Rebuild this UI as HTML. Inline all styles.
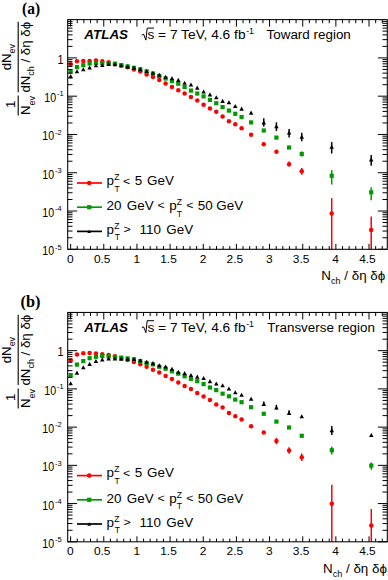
<!DOCTYPE html>
<html><head><meta charset="utf-8"><style>
html,body{margin:0;padding:0;background:#fff;}
svg{display:block;}
text{font-family:"Liberation Sans",sans-serif;}
</style></head><body>
<svg width="388" height="580" viewBox="0 0 388 580" font-family="Liberation Sans, sans-serif">
<rect width="388" height="580" fill="#fff"/>
<text transform="translate(70.43,262.7) scale(1.02,1)" font-size="11.7" text-anchor="middle">0</text>
<text transform="translate(102.19,262.7) scale(1.02,1)" font-size="11.7" text-anchor="middle">0.5</text>
<text transform="translate(136.74,262.7) scale(1.02,1)" font-size="11.7" text-anchor="middle">1</text>
<text transform="translate(168.5,262.7) scale(1.02,1)" font-size="11.7" text-anchor="middle">1.5</text>
<text transform="translate(203.05,262.7) scale(1.02,1)" font-size="11.7" text-anchor="middle">2</text>
<text transform="translate(234.81,262.7) scale(1.02,1)" font-size="11.7" text-anchor="middle">2.5</text>
<text transform="translate(269.36,262.7) scale(1.02,1)" font-size="11.7" text-anchor="middle">3</text>
<text transform="translate(301.12,262.7) scale(1.02,1)" font-size="11.7" text-anchor="middle">3.5</text>
<text transform="translate(335.67,262.7) scale(1.02,1)" font-size="11.7" text-anchor="middle">4</text>
<text transform="translate(367.42,262.7) scale(1.02,1)" font-size="11.7" text-anchor="middle">4.5</text>
<text transform="translate(63.6,63.5) scale(0.9,1)" font-size="12.0" text-anchor="end">1</text>
<text transform="translate(44.29,102.18) scale(0.885,1)" font-size="12.0">10</text>
<text transform="translate(56.97,96.48) scale(1.0,1)" font-size="7.5">-1</text>
<text transform="translate(42.29,140.46) scale(0.885,1)" font-size="12.0">10</text>
<text transform="translate(54.97,134.76) scale(1.0,1)" font-size="7.5">-2</text>
<text transform="translate(42.29,178.74) scale(0.885,1)" font-size="12.0">10</text>
<text transform="translate(54.97,173.04) scale(1.0,1)" font-size="7.5">-3</text>
<text transform="translate(42.29,217.02) scale(0.885,1)" font-size="12.0">10</text>
<text transform="translate(54.97,211.32) scale(1.0,1)" font-size="7.5">-4</text>
<text transform="translate(42.29,255.3) scale(0.885,1)" font-size="12.0">10</text>
<text transform="translate(54.97,249.6) scale(1.0,1)" font-size="7.5">-5</text>
<text transform="translate(321.3,279.5) scale(0.985,1)" font-size="13.6">N<tspan font-size="9.2" dy="4.0">ch</tspan><tspan dy="-4.0"> / δη δϕ</tspan></text>
<line x1="18.2" y1="95.6" x2="18.2" y2="115.6" stroke="#000" stroke-width="1.1"/>
<line x1="18.2" y1="21.8" x2="18.2" y2="92.2" stroke="#000" stroke-width="1.1"/>
<text transform="translate(15.2,108) rotate(-90) scale(0.97,1)" font-size="13.6">1</text>
<text transform="translate(30.2,115) rotate(-90) scale(0.97,1)" font-size="13.6">N<tspan font-size="9.2" dy="4.3">ev</tspan></text>
<text transform="translate(10.9,70.3) rotate(-90) scale(0.97,1)" font-size="13.6">dN<tspan font-size="9.2" dy="4.3">ev</tspan></text>
<text transform="translate(30.2,92.6) rotate(-90) scale(0.975,1)" font-size="13.6">dN<tspan font-size="9.2" dy="4.0">ch</tspan><tspan dy="-4.0"> / δη δϕ</tspan></text>
<text transform="translate(22,13.8) scale(0.91,1)" style="font-family:Liberation Serif,serif" font-weight="bold" font-size="17">(a)</text>
<text transform="translate(84.3,39.1) scale(1.01,1)" font-size="13.3" font-weight="bold" font-style="italic">ATLAS</text>
<text transform="translate(266.5,39.1) scale(1.01,1)" font-size="13.3">Toward region</text>
<text transform="translate(147.4,39.1) scale(1.033,1)" font-size="13.3">s = 7 TeV, 4.6 fb<tspan font-size="8.5" dx="0.6" dy="-5.0">-1</tspan></text>
<path d="M141.8 35.1L143.6 34.2L145.9 40.1L147.2 28.1H154" stroke="#000" stroke-width="1" fill="none"/>
<line x1="77" y1="183" x2="102" y2="183" stroke="#ff0000" stroke-width="1.7"/>
<circle cx="89.2" cy="183" r="2.3" fill="#ff0000"/>
<text transform="translate(106.43,185) scale(1.01,1)" font-size="13.3">p</text>
<text transform="translate(114.23,180.1) scale(1.01,1)" font-size="8.5">Z</text>
<text transform="translate(114.41,191.8) scale(1.01,1)" font-size="8.5">T</text>
<text transform="translate(122.89,184.65) scale(0.93,0.86)" font-size="13.3">&lt;</text>
<text transform="translate(134.76,185) scale(1.01,1)" font-size="13.3">5</text>
<text transform="translate(147.02,185) scale(1.01,1)" font-size="13.3">GeV</text>
<line x1="77" y1="207.2" x2="102" y2="207.2" stroke="#009a00" stroke-width="1.7"/>
<rect x="87.1" y="205.1" width="4.2" height="4.2" fill="#009a00"/>
<text transform="translate(106.52,209.7) scale(1.01,1)" font-size="13.3">20</text>
<text transform="translate(126.72,209.7) scale(1.01,1)" font-size="13.3">GeV</text>
<text transform="translate(157.39,209.35) scale(0.93,0.86)" font-size="13.3">&lt;</text>
<text transform="translate(169.23,209.7) scale(1.01,1)" font-size="13.3">p</text>
<text transform="translate(176.73,204.8) scale(1.01,1)" font-size="8.5">Z</text>
<text transform="translate(176.81,216.5) scale(1.01,1)" font-size="8.5">T</text>
<text transform="translate(186.29,209.35) scale(0.93,0.86)" font-size="13.3">&lt;</text>
<text transform="translate(197.86,209.7) scale(1.01,1)" font-size="13.3">50</text>
<text transform="translate(216.32,209.7) scale(1.01,1)" font-size="13.3">GeV</text>
<line x1="77" y1="231.4" x2="102" y2="231.4" stroke="#000000" stroke-width="1.7"/>
<path d="M89.2 229.74L91 233.06L87.4 233.06Z" fill="#000000"/>
<text transform="translate(106.43,233.6) scale(1.01,1)" font-size="13.3">p</text>
<text transform="translate(114.23,228.7) scale(1.01,1)" font-size="8.5">Z</text>
<text transform="translate(114.71,240.4) scale(1.01,1)" font-size="8.5">T</text>
<text transform="translate(123.49,233.25) scale(0.93,0.86)" font-size="13.3">&gt;</text>
<text transform="translate(139.58,233.6) scale(1.01,1)" font-size="13.3">110</text>
<text transform="translate(166.22,233.6) scale(1.01,1)" font-size="13.3">GeV</text>
<line x1="263.76" y1="118.2" x2="263.76" y2="126.4" stroke="#000000" stroke-width="1.5"/>
<line x1="276.42" y1="122.3" x2="276.42" y2="131" stroke="#000000" stroke-width="1.5"/>
<line x1="289.09" y1="129.1" x2="289.09" y2="137.5" stroke="#000000" stroke-width="1.5"/>
<line x1="289.09" y1="161.6" x2="289.09" y2="166.6" stroke="#ff0000" stroke-width="1.5"/>
<line x1="301.75" y1="132.8" x2="301.75" y2="141.2" stroke="#000000" stroke-width="1.5"/>
<line x1="301.75" y1="151.6" x2="301.75" y2="156.4" stroke="#009a00" stroke-width="1.5"/>
<line x1="301.75" y1="168" x2="301.75" y2="174.7" stroke="#ff0000" stroke-width="1.5"/>
<line x1="331.7" y1="142.1" x2="331.7" y2="153.5" stroke="#000000" stroke-width="1.5"/>
<line x1="331.7" y1="170.1" x2="331.7" y2="184.5" stroke="#009a00" stroke-width="1.5"/>
<line x1="331.7" y1="198.1" x2="331.7" y2="249.3" stroke="#ff0000" stroke-width="1.5"/>
<line x1="371.2" y1="155.1" x2="371.2" y2="165.8" stroke="#000000" stroke-width="1.5"/>
<line x1="371.2" y1="187.2" x2="371.2" y2="200.3" stroke="#009a00" stroke-width="1.5"/>
<line x1="371.2" y1="216.4" x2="371.2" y2="249.3" stroke="#ff0000" stroke-width="1.5"/>
<circle cx="70.63" cy="64.2" r="2.25" fill="#ff0000"/>
<circle cx="76.96" cy="61.3" r="2.25" fill="#ff0000"/>
<circle cx="83.29" cy="60.9" r="2.25" fill="#ff0000"/>
<circle cx="89.63" cy="61.1" r="2.25" fill="#ff0000"/>
<circle cx="95.96" cy="60.4" r="2.25" fill="#ff0000"/>
<circle cx="102.29" cy="61.2" r="2.25" fill="#ff0000"/>
<circle cx="108.62" cy="62.3" r="2.25" fill="#ff0000"/>
<circle cx="114.95" cy="63.9" r="2.25" fill="#ff0000"/>
<circle cx="121.29" cy="65.6" r="2.25" fill="#ff0000"/>
<circle cx="127.62" cy="67.3" r="2.25" fill="#ff0000"/>
<circle cx="133.95" cy="69.4" r="2.25" fill="#ff0000"/>
<circle cx="140.28" cy="71.5" r="2.25" fill="#ff0000"/>
<circle cx="146.62" cy="74.4" r="2.25" fill="#ff0000"/>
<circle cx="152.95" cy="77.1" r="2.25" fill="#ff0000"/>
<circle cx="159.28" cy="80" r="2.25" fill="#ff0000"/>
<circle cx="165.61" cy="83.4" r="2.25" fill="#ff0000"/>
<circle cx="171.94" cy="87.1" r="2.25" fill="#ff0000"/>
<circle cx="178.28" cy="90.2" r="2.25" fill="#ff0000"/>
<circle cx="184.61" cy="93.5" r="2.25" fill="#ff0000"/>
<circle cx="190.94" cy="97" r="2.25" fill="#ff0000"/>
<circle cx="197.27" cy="100.5" r="2.25" fill="#ff0000"/>
<circle cx="203.6" cy="104.7" r="2.25" fill="#ff0000"/>
<circle cx="209.94" cy="108.6" r="2.25" fill="#ff0000"/>
<circle cx="216.27" cy="111.8" r="2.25" fill="#ff0000"/>
<circle cx="222.6" cy="116.4" r="2.25" fill="#ff0000"/>
<circle cx="228.93" cy="121.2" r="2.25" fill="#ff0000"/>
<circle cx="235.27" cy="124.3" r="2.25" fill="#ff0000"/>
<circle cx="241.6" cy="128.3" r="2.25" fill="#ff0000"/>
<circle cx="251.1" cy="134.7" r="2.25" fill="#ff0000"/>
<circle cx="263.76" cy="144.3" r="2.25" fill="#ff0000"/>
<circle cx="276.42" cy="151.8" r="2.25" fill="#ff0000"/>
<circle cx="289.09" cy="164.2" r="2.25" fill="#ff0000"/>
<circle cx="301.75" cy="171.2" r="2.25" fill="#ff0000"/>
<circle cx="331.7" cy="213.6" r="2.25" fill="#ff0000"/>
<circle cx="371.2" cy="230" r="2.25" fill="#ff0000"/>
<rect x="68.53" y="69.4" width="4.2" height="4.2" fill="#009a00"/>
<rect x="74.86" y="65" width="4.2" height="4.2" fill="#009a00"/>
<rect x="81.19" y="63.1" width="4.2" height="4.2" fill="#009a00"/>
<rect x="87.53" y="61.4" width="4.2" height="4.2" fill="#009a00"/>
<rect x="93.86" y="60.8" width="4.2" height="4.2" fill="#009a00"/>
<rect x="100.19" y="61" width="4.2" height="4.2" fill="#009a00"/>
<rect x="106.52" y="61.2" width="4.2" height="4.2" fill="#009a00"/>
<rect x="112.85" y="61.6" width="4.2" height="4.2" fill="#009a00"/>
<rect x="119.19" y="63.1" width="4.2" height="4.2" fill="#009a00"/>
<rect x="125.52" y="64.3" width="4.2" height="4.2" fill="#009a00"/>
<rect x="131.85" y="65.8" width="4.2" height="4.2" fill="#009a00"/>
<rect x="138.18" y="67.2" width="4.2" height="4.2" fill="#009a00"/>
<rect x="144.52" y="69.3" width="4.2" height="4.2" fill="#009a00"/>
<rect x="150.85" y="71.5" width="4.2" height="4.2" fill="#009a00"/>
<rect x="157.18" y="73.9" width="4.2" height="4.2" fill="#009a00"/>
<rect x="163.51" y="76.4" width="4.2" height="4.2" fill="#009a00"/>
<rect x="169.84" y="79" width="4.2" height="4.2" fill="#009a00"/>
<rect x="176.18" y="81.6" width="4.2" height="4.2" fill="#009a00"/>
<rect x="182.51" y="85" width="4.2" height="4.2" fill="#009a00"/>
<rect x="188.84" y="88.5" width="4.2" height="4.2" fill="#009a00"/>
<rect x="195.17" y="91.4" width="4.2" height="4.2" fill="#009a00"/>
<rect x="201.5" y="94.3" width="4.2" height="4.2" fill="#009a00"/>
<rect x="207.84" y="97.8" width="4.2" height="4.2" fill="#009a00"/>
<rect x="214.17" y="101.1" width="4.2" height="4.2" fill="#009a00"/>
<rect x="220.5" y="105" width="4.2" height="4.2" fill="#009a00"/>
<rect x="226.83" y="108.5" width="4.2" height="4.2" fill="#009a00"/>
<rect x="233.17" y="111.7" width="4.2" height="4.2" fill="#009a00"/>
<rect x="239.5" y="114.9" width="4.2" height="4.2" fill="#009a00"/>
<rect x="249" y="120.3" width="4.2" height="4.2" fill="#009a00"/>
<rect x="261.66" y="128.4" width="4.2" height="4.2" fill="#009a00"/>
<rect x="274.32" y="135.5" width="4.2" height="4.2" fill="#009a00"/>
<rect x="286.99" y="145.4" width="4.2" height="4.2" fill="#009a00"/>
<rect x="299.65" y="151.9" width="4.2" height="4.2" fill="#009a00"/>
<rect x="329.6" y="173.7" width="4.2" height="4.2" fill="#009a00"/>
<rect x="369.1" y="190.2" width="4.2" height="4.2" fill="#009a00"/>
<path d="M70.63 74.03L72.88 78.17L68.38 78.17Z" fill="#000000"/>
<path d="M76.96 69.13L79.21 73.27L74.71 73.27Z" fill="#000000"/>
<path d="M83.29 67.23L85.54 71.37L81.04 71.37Z" fill="#000000"/>
<path d="M89.63 65.33L91.88 69.47L87.38 69.47Z" fill="#000000"/>
<path d="M95.96 63.23L98.21 67.37L93.71 67.37Z" fill="#000000"/>
<path d="M102.29 62.93L104.54 67.07L100.04 67.07Z" fill="#000000"/>
<path d="M108.62 61.93L110.87 66.07L106.37 66.07Z" fill="#000000"/>
<path d="M114.95 62.13L117.2 66.27L112.7 66.27Z" fill="#000000"/>
<path d="M121.29 63.13L123.54 67.27L119.04 67.27Z" fill="#000000"/>
<path d="M127.62 64.33L129.87 68.47L125.37 68.47Z" fill="#000000"/>
<path d="M133.95 65.53L136.2 69.67L131.7 69.67Z" fill="#000000"/>
<path d="M140.28 67.03L142.53 71.17L138.03 71.17Z" fill="#000000"/>
<path d="M146.62 68.93L148.87 73.07L144.37 73.07Z" fill="#000000"/>
<path d="M152.95 70.63L155.2 74.77L150.7 74.77Z" fill="#000000"/>
<path d="M159.28 72.63L161.53 76.77L157.03 76.77Z" fill="#000000"/>
<path d="M165.61 74.73L167.86 78.87L163.36 78.87Z" fill="#000000"/>
<path d="M171.94 76.03L174.19 80.17L169.69 80.17Z" fill="#000000"/>
<path d="M178.28 77.83L180.53 81.97L176.03 81.97Z" fill="#000000"/>
<path d="M184.61 80.73L186.86 84.87L182.36 84.87Z" fill="#000000"/>
<path d="M190.94 82.43L193.19 86.57L188.69 86.57Z" fill="#000000"/>
<path d="M197.27 85.53L199.52 89.67L195.02 89.67Z" fill="#000000"/>
<path d="M203.6 89.43L205.85 93.57L201.35 93.57Z" fill="#000000"/>
<path d="M209.94 92.33L212.19 96.47L207.69 96.47Z" fill="#000000"/>
<path d="M216.27 95.23L218.52 99.37L214.02 99.37Z" fill="#000000"/>
<path d="M222.6 98.83L224.85 102.97L220.35 102.97Z" fill="#000000"/>
<path d="M228.93 100.13L231.18 104.27L226.68 104.27Z" fill="#000000"/>
<path d="M235.27 103.93L237.52 108.07L233.02 108.07Z" fill="#000000"/>
<path d="M241.6 106.53L243.85 110.67L239.35 110.67Z" fill="#000000"/>
<path d="M251.1 110.53L253.35 114.67L248.85 114.67Z" fill="#000000"/>
<path d="M263.76 120.33L266.01 124.47L261.51 124.47Z" fill="#000000"/>
<path d="M276.42 124.13L278.67 128.27L274.17 128.27Z" fill="#000000"/>
<path d="M289.09 130.43L291.34 134.57L286.84 134.57Z" fill="#000000"/>
<path d="M301.75 134.53L304 138.67L299.5 138.67Z" fill="#000000"/>
<path d="M331.7 144.73L333.95 148.87L329.45 148.87Z" fill="#000000"/>
<path d="M371.2 157.33L373.45 161.47L368.95 161.47Z" fill="#000000"/>
<rect x="67.7" y="19.62" width="319.6" height="229.68" fill="none" stroke="#000" stroke-width="1.05"/>
<path d="M70.63 249.3V243.8M70.63 19.62V26.62M77.26 249.3V246.1M77.26 19.62V23.22M83.89 249.3V246.1M83.89 19.62V23.22M90.52 249.3V246.1M90.52 19.62V23.22M97.15 249.3V246.1M97.15 19.62V23.22M103.78 249.3V243.8M103.78 19.62V26.62M110.42 249.3V246.1M110.42 19.62V23.22M117.05 249.3V246.1M117.05 19.62V23.22M123.68 249.3V246.1M123.68 19.62V23.22M130.31 249.3V246.1M130.31 19.62V23.22M136.94 249.3V243.8M136.94 19.62V26.62M143.57 249.3V246.1M143.57 19.62V23.22M150.2 249.3V246.1M150.2 19.62V23.22M156.83 249.3V246.1M156.83 19.62V23.22M163.46 249.3V246.1M163.46 19.62V23.22M170.09 249.3V243.8M170.09 19.62V26.62M176.73 249.3V246.1M176.73 19.62V23.22M183.36 249.3V246.1M183.36 19.62V23.22M189.99 249.3V246.1M189.99 19.62V23.22M196.62 249.3V246.1M196.62 19.62V23.22M203.25 249.3V243.8M203.25 19.62V26.62M209.88 249.3V246.1M209.88 19.62V23.22M216.51 249.3V246.1M216.51 19.62V23.22M223.14 249.3V246.1M223.14 19.62V23.22M229.77 249.3V246.1M229.77 19.62V23.22M236.41 249.3V243.8M236.41 19.62V26.62M243.04 249.3V246.1M243.04 19.62V23.22M249.67 249.3V246.1M249.67 19.62V23.22M256.3 249.3V246.1M256.3 19.62V23.22M262.93 249.3V246.1M262.93 19.62V23.22M269.56 249.3V243.8M269.56 19.62V26.62M276.19 249.3V246.1M276.19 19.62V23.22M282.82 249.3V246.1M282.82 19.62V23.22M289.45 249.3V246.1M289.45 19.62V23.22M296.08 249.3V246.1M296.08 19.62V23.22M302.72 249.3V243.8M302.72 19.62V26.62M309.35 249.3V246.1M309.35 19.62V23.22M315.98 249.3V246.1M315.98 19.62V23.22M322.61 249.3V246.1M322.61 19.62V23.22M329.24 249.3V246.1M329.24 19.62V23.22M335.87 249.3V243.8M335.87 19.62V26.62M342.5 249.3V246.1M342.5 19.62V23.22M349.13 249.3V246.1M349.13 19.62V23.22M355.76 249.3V246.1M355.76 19.62V23.22M362.39 249.3V246.1M362.39 19.62V23.22M369.02 249.3V243.8M369.02 19.62V26.62M375.66 249.3V246.1M375.66 19.62V23.22M382.29 249.3V246.1M382.29 19.62V23.22M67.7 249.3H77.1M387.3 249.3H377.9M67.7 237.78H72.5M387.3 237.78H382.5M67.7 231.04H72.5M387.3 231.04H382.5M67.7 226.25H72.5M387.3 226.25H382.5M67.7 222.54H72.5M387.3 222.54H382.5M67.7 219.51H72.5M387.3 219.51H382.5M67.7 216.95H72.5M387.3 216.95H382.5M67.7 214.73H72.5M387.3 214.73H382.5M67.7 212.77H72.5M387.3 212.77H382.5M67.7 211.02H77.1M387.3 211.02H377.9M67.7 199.5H72.5M387.3 199.5H382.5M67.7 192.76H72.5M387.3 192.76H382.5M67.7 187.97H72.5M387.3 187.97H382.5M67.7 184.26H72.5M387.3 184.26H382.5M67.7 181.23H72.5M387.3 181.23H382.5M67.7 178.67H72.5M387.3 178.67H382.5M67.7 176.45H72.5M387.3 176.45H382.5M67.7 174.49H72.5M387.3 174.49H382.5M67.7 172.74H77.1M387.3 172.74H377.9M67.7 161.22H72.5M387.3 161.22H382.5M67.7 154.48H72.5M387.3 154.48H382.5M67.7 149.69H72.5M387.3 149.69H382.5M67.7 145.98H72.5M387.3 145.98H382.5M67.7 142.95H72.5M387.3 142.95H382.5M67.7 140.39H72.5M387.3 140.39H382.5M67.7 138.17H72.5M387.3 138.17H382.5M67.7 136.21H72.5M387.3 136.21H382.5M67.7 134.46H77.1M387.3 134.46H377.9M67.7 122.94H72.5M387.3 122.94H382.5M67.7 116.2H72.5M387.3 116.2H382.5M67.7 111.41H72.5M387.3 111.41H382.5M67.7 107.7H72.5M387.3 107.7H382.5M67.7 104.67H72.5M387.3 104.67H382.5M67.7 102.11H72.5M387.3 102.11H382.5M67.7 99.89H72.5M387.3 99.89H382.5M67.7 97.93H72.5M387.3 97.93H382.5M67.7 96.18H77.1M387.3 96.18H377.9M67.7 84.66H72.5M387.3 84.66H382.5M67.7 77.92H72.5M387.3 77.92H382.5M67.7 73.13H72.5M387.3 73.13H382.5M67.7 69.42H72.5M387.3 69.42H382.5M67.7 66.39H72.5M387.3 66.39H382.5M67.7 63.83H72.5M387.3 63.83H382.5M67.7 61.61H72.5M387.3 61.61H382.5M67.7 59.65H72.5M387.3 59.65H382.5M67.7 57.9H77.1M387.3 57.9H377.9M67.7 46.38H72.5M387.3 46.38H382.5M67.7 39.64H72.5M387.3 39.64H382.5M67.7 34.85H72.5M387.3 34.85H382.5M67.7 31.14H72.5M387.3 31.14H382.5M67.7 28.11H72.5M387.3 28.11H382.5M67.7 25.55H72.5M387.3 25.55H382.5M67.7 23.33H72.5M387.3 23.33H382.5M67.7 21.37H72.5M387.3 21.37H382.5" stroke="#000" stroke-width="1" fill="none"/>
<text transform="translate(70.43,555.2) scale(1.02,1)" font-size="11.7" text-anchor="middle">0</text>
<text transform="translate(102.19,555.2) scale(1.02,1)" font-size="11.7" text-anchor="middle">0.5</text>
<text transform="translate(136.74,555.2) scale(1.02,1)" font-size="11.7" text-anchor="middle">1</text>
<text transform="translate(168.5,555.2) scale(1.02,1)" font-size="11.7" text-anchor="middle">1.5</text>
<text transform="translate(203.05,555.2) scale(1.02,1)" font-size="11.7" text-anchor="middle">2</text>
<text transform="translate(234.81,555.2) scale(1.02,1)" font-size="11.7" text-anchor="middle">2.5</text>
<text transform="translate(269.36,555.2) scale(1.02,1)" font-size="11.7" text-anchor="middle">3</text>
<text transform="translate(301.12,555.2) scale(1.02,1)" font-size="11.7" text-anchor="middle">3.5</text>
<text transform="translate(335.67,555.2) scale(1.02,1)" font-size="11.7" text-anchor="middle">4</text>
<text transform="translate(367.42,555.2) scale(1.02,1)" font-size="11.7" text-anchor="middle">4.5</text>
<text transform="translate(63.6,356.27) scale(0.9,1)" font-size="12.0" text-anchor="end">1</text>
<text transform="translate(44.29,394.9) scale(0.885,1)" font-size="12.0">10</text>
<text transform="translate(56.97,389.2) scale(1.0,1)" font-size="7.5">-1</text>
<text transform="translate(42.29,433.12) scale(0.885,1)" font-size="12.0">10</text>
<text transform="translate(54.97,427.43) scale(1.0,1)" font-size="7.5">-2</text>
<text transform="translate(42.29,471.35) scale(0.885,1)" font-size="12.0">10</text>
<text transform="translate(54.97,465.65) scale(1.0,1)" font-size="7.5">-3</text>
<text transform="translate(42.29,509.57) scale(0.885,1)" font-size="12.0">10</text>
<text transform="translate(54.97,503.87) scale(1.0,1)" font-size="7.5">-4</text>
<text transform="translate(42.29,547.8) scale(0.885,1)" font-size="12.0">10</text>
<text transform="translate(54.97,542.1) scale(1.0,1)" font-size="7.5">-5</text>
<text transform="translate(323,572.6) scale(0.985,1)" font-size="13.6">N<tspan font-size="9.2" dy="4.0">ch</tspan><tspan dy="-4.0"> / δη δϕ</tspan></text>
<line x1="18.2" y1="388.5" x2="18.2" y2="408.5" stroke="#000" stroke-width="1.1"/>
<line x1="18.2" y1="314.7" x2="18.2" y2="385.1" stroke="#000" stroke-width="1.1"/>
<text transform="translate(15.2,400.9) rotate(-90) scale(0.97,1)" font-size="13.6">1</text>
<text transform="translate(30.2,407.9) rotate(-90) scale(0.97,1)" font-size="13.6">N<tspan font-size="9.2" dy="4.3">ev</tspan></text>
<text transform="translate(10.9,363.2) rotate(-90) scale(0.97,1)" font-size="13.6">dN<tspan font-size="9.2" dy="4.3">ev</tspan></text>
<text transform="translate(30.2,385.5) rotate(-90) scale(0.975,1)" font-size="13.6">dN<tspan font-size="9.2" dy="4.0">ch</tspan><tspan dy="-4.0"> / δη δϕ</tspan></text>
<text transform="translate(20.6,306.6) scale(0.96,1)" style="font-family:Liberation Serif,serif" font-weight="bold" font-size="17">(b)</text>
<text transform="translate(84.3,332.2) scale(1.01,1)" font-size="13.3" font-weight="bold" font-style="italic">ATLAS</text>
<text transform="translate(267.3,331.7) scale(1.01,1)" font-size="13.3">Transverse region</text>
<text transform="translate(147.4,331.7) scale(1.033,1)" font-size="13.3">s = 7 TeV, 4.6 fb<tspan font-size="8.5" dx="0.6" dy="-5.0">-1</tspan></text>
<path d="M141.8 327.7L143.6 326.8L145.9 332.7L147.2 320.7H154" stroke="#000" stroke-width="1" fill="none"/>
<line x1="77" y1="475.6" x2="102" y2="475.6" stroke="#ff0000" stroke-width="1.7"/>
<circle cx="89.2" cy="475.6" r="2.3" fill="#ff0000"/>
<text transform="translate(106.43,477.1) scale(1.01,1)" font-size="13.3">p</text>
<text transform="translate(114.23,472.2) scale(1.01,1)" font-size="8.5">Z</text>
<text transform="translate(114.41,483.9) scale(1.01,1)" font-size="8.5">T</text>
<text transform="translate(122.89,476.75) scale(0.93,0.86)" font-size="13.3">&lt;</text>
<text transform="translate(134.76,477.1) scale(1.01,1)" font-size="13.3">5</text>
<text transform="translate(147.02,477.1) scale(1.01,1)" font-size="13.3">GeV</text>
<line x1="77" y1="499.8" x2="102" y2="499.8" stroke="#009a00" stroke-width="1.7"/>
<rect x="87.1" y="497.7" width="4.2" height="4.2" fill="#009a00"/>
<text transform="translate(106.52,502.6) scale(1.01,1)" font-size="13.3">20</text>
<text transform="translate(126.72,502.6) scale(1.01,1)" font-size="13.3">GeV</text>
<text transform="translate(157.39,502.25) scale(0.93,0.86)" font-size="13.3">&lt;</text>
<text transform="translate(169.23,502.6) scale(1.01,1)" font-size="13.3">p</text>
<text transform="translate(176.73,497.7) scale(1.01,1)" font-size="8.5">Z</text>
<text transform="translate(176.81,509.4) scale(1.01,1)" font-size="8.5">T</text>
<text transform="translate(186.29,502.25) scale(0.93,0.86)" font-size="13.3">&lt;</text>
<text transform="translate(197.86,502.6) scale(1.01,1)" font-size="13.3">50</text>
<text transform="translate(216.32,502.6) scale(1.01,1)" font-size="13.3">GeV</text>
<line x1="77" y1="524" x2="102" y2="524" stroke="#000000" stroke-width="1.7"/>
<path d="M89.2 522.34L91 525.66L87.4 525.66Z" fill="#000000"/>
<text transform="translate(106.43,526.5) scale(1.01,1)" font-size="13.3">p</text>
<text transform="translate(114.23,521.6) scale(1.01,1)" font-size="8.5">Z</text>
<text transform="translate(114.71,533.3) scale(1.01,1)" font-size="8.5">T</text>
<text transform="translate(123.49,526.15) scale(0.93,0.86)" font-size="13.3">&gt;</text>
<text transform="translate(139.58,526.5) scale(1.01,1)" font-size="13.3">110</text>
<text transform="translate(166.22,526.5) scale(1.01,1)" font-size="13.3">GeV</text>
<line x1="289.09" y1="447.2" x2="289.09" y2="453.8" stroke="#ff0000" stroke-width="1.5"/>
<line x1="263.76" y1="401.5" x2="263.76" y2="406" stroke="#000000" stroke-width="1.5"/>
<line x1="276.42" y1="404.8" x2="276.42" y2="409.5" stroke="#000000" stroke-width="1.5"/>
<line x1="289.09" y1="410.2" x2="289.09" y2="415" stroke="#000000" stroke-width="1.5"/>
<line x1="276.42" y1="437.8" x2="276.42" y2="444.2" stroke="#ff0000" stroke-width="1.5"/>
<line x1="301.75" y1="453.6" x2="301.75" y2="460.9" stroke="#ff0000" stroke-width="1.5"/>
<line x1="331.8" y1="426" x2="331.8" y2="435.1" stroke="#000000" stroke-width="1.5"/>
<line x1="331.8" y1="446.7" x2="331.8" y2="454.5" stroke="#009a00" stroke-width="1.5"/>
<line x1="331.8" y1="484.7" x2="331.8" y2="541.8" stroke="#ff0000" stroke-width="1.5"/>
<line x1="371.3" y1="462.5" x2="371.3" y2="469.8" stroke="#009a00" stroke-width="1.5"/>
<line x1="371.3" y1="509" x2="371.3" y2="541.8" stroke="#ff0000" stroke-width="1.5"/>
<circle cx="70.63" cy="360.3" r="2.25" fill="#ff0000"/>
<circle cx="76.96" cy="354.6" r="2.25" fill="#ff0000"/>
<circle cx="83.29" cy="353.3" r="2.25" fill="#ff0000"/>
<circle cx="89.63" cy="353" r="2.25" fill="#ff0000"/>
<circle cx="95.96" cy="353.6" r="2.25" fill="#ff0000"/>
<circle cx="102.29" cy="354.2" r="2.25" fill="#ff0000"/>
<circle cx="108.62" cy="355" r="2.25" fill="#ff0000"/>
<circle cx="114.95" cy="356.2" r="2.25" fill="#ff0000"/>
<circle cx="121.29" cy="358.2" r="2.25" fill="#ff0000"/>
<circle cx="127.62" cy="360.1" r="2.25" fill="#ff0000"/>
<circle cx="133.95" cy="362" r="2.25" fill="#ff0000"/>
<circle cx="140.28" cy="364.3" r="2.25" fill="#ff0000"/>
<circle cx="146.62" cy="366.7" r="2.25" fill="#ff0000"/>
<circle cx="152.95" cy="369.7" r="2.25" fill="#ff0000"/>
<circle cx="159.28" cy="372.6" r="2.25" fill="#ff0000"/>
<circle cx="165.61" cy="375.9" r="2.25" fill="#ff0000"/>
<circle cx="171.94" cy="379" r="2.25" fill="#ff0000"/>
<circle cx="178.28" cy="382.4" r="2.25" fill="#ff0000"/>
<circle cx="184.61" cy="385.9" r="2.25" fill="#ff0000"/>
<circle cx="190.94" cy="389" r="2.25" fill="#ff0000"/>
<circle cx="197.27" cy="392.9" r="2.25" fill="#ff0000"/>
<circle cx="203.6" cy="396.6" r="2.25" fill="#ff0000"/>
<circle cx="209.94" cy="399.9" r="2.25" fill="#ff0000"/>
<circle cx="216.27" cy="404.6" r="2.25" fill="#ff0000"/>
<circle cx="222.6" cy="407.5" r="2.25" fill="#ff0000"/>
<circle cx="228.93" cy="412.9" r="2.25" fill="#ff0000"/>
<circle cx="235.27" cy="416.2" r="2.25" fill="#ff0000"/>
<circle cx="241.6" cy="419.6" r="2.25" fill="#ff0000"/>
<circle cx="251.1" cy="426.2" r="2.25" fill="#ff0000"/>
<circle cx="263.76" cy="432.4" r="2.25" fill="#ff0000"/>
<circle cx="276.42" cy="440.9" r="2.25" fill="#ff0000"/>
<circle cx="289.09" cy="450.4" r="2.25" fill="#ff0000"/>
<circle cx="301.75" cy="457.2" r="2.25" fill="#ff0000"/>
<circle cx="331.8" cy="503.8" r="2.25" fill="#ff0000"/>
<circle cx="371.3" cy="525.6" r="2.25" fill="#ff0000"/>
<rect x="68.53" y="373" width="4.2" height="4.2" fill="#009a00"/>
<rect x="74.86" y="362.5" width="4.2" height="4.2" fill="#009a00"/>
<rect x="81.19" y="359" width="4.2" height="4.2" fill="#009a00"/>
<rect x="87.53" y="356.1" width="4.2" height="4.2" fill="#009a00"/>
<rect x="93.86" y="354.7" width="4.2" height="4.2" fill="#009a00"/>
<rect x="100.19" y="354" width="4.2" height="4.2" fill="#009a00"/>
<rect x="106.52" y="354.2" width="4.2" height="4.2" fill="#009a00"/>
<rect x="112.85" y="354.8" width="4.2" height="4.2" fill="#009a00"/>
<rect x="119.19" y="355.5" width="4.2" height="4.2" fill="#009a00"/>
<rect x="125.52" y="356.3" width="4.2" height="4.2" fill="#009a00"/>
<rect x="131.85" y="357.3" width="4.2" height="4.2" fill="#009a00"/>
<rect x="138.18" y="359" width="4.2" height="4.2" fill="#009a00"/>
<rect x="144.52" y="360.9" width="4.2" height="4.2" fill="#009a00"/>
<rect x="150.85" y="362.3" width="4.2" height="4.2" fill="#009a00"/>
<rect x="157.18" y="364.7" width="4.2" height="4.2" fill="#009a00"/>
<rect x="163.51" y="366.6" width="4.2" height="4.2" fill="#009a00"/>
<rect x="169.84" y="369.2" width="4.2" height="4.2" fill="#009a00"/>
<rect x="176.18" y="371.6" width="4.2" height="4.2" fill="#009a00"/>
<rect x="182.51" y="374.2" width="4.2" height="4.2" fill="#009a00"/>
<rect x="188.84" y="376.7" width="4.2" height="4.2" fill="#009a00"/>
<rect x="195.17" y="379.1" width="4.2" height="4.2" fill="#009a00"/>
<rect x="201.5" y="382" width="4.2" height="4.2" fill="#009a00"/>
<rect x="207.84" y="385.4" width="4.2" height="4.2" fill="#009a00"/>
<rect x="214.17" y="388" width="4.2" height="4.2" fill="#009a00"/>
<rect x="220.5" y="391.6" width="4.2" height="4.2" fill="#009a00"/>
<rect x="226.83" y="394.2" width="4.2" height="4.2" fill="#009a00"/>
<rect x="233.17" y="397.5" width="4.2" height="4.2" fill="#009a00"/>
<rect x="239.5" y="400.1" width="4.2" height="4.2" fill="#009a00"/>
<rect x="249" y="405.1" width="4.2" height="4.2" fill="#009a00"/>
<rect x="261.66" y="411.7" width="4.2" height="4.2" fill="#009a00"/>
<rect x="274.32" y="419.5" width="4.2" height="4.2" fill="#009a00"/>
<rect x="286.99" y="425.4" width="4.2" height="4.2" fill="#009a00"/>
<rect x="299.65" y="433.7" width="4.2" height="4.2" fill="#009a00"/>
<rect x="329.7" y="448.1" width="4.2" height="4.2" fill="#009a00"/>
<rect x="369.2" y="463.5" width="4.2" height="4.2" fill="#009a00"/>
<path d="M70.63 381.13L72.88 385.27L68.38 385.27Z" fill="#000000"/>
<path d="M76.96 370.53L79.21 374.67L74.71 374.67Z" fill="#000000"/>
<path d="M83.29 365.23L85.54 369.37L81.04 369.37Z" fill="#000000"/>
<path d="M89.63 361.83L91.88 365.97L87.38 365.97Z" fill="#000000"/>
<path d="M95.96 358.93L98.21 363.07L93.71 363.07Z" fill="#000000"/>
<path d="M102.29 357.43L104.54 361.57L100.04 361.57Z" fill="#000000"/>
<path d="M108.62 356.33L110.87 360.47L106.37 360.47Z" fill="#000000"/>
<path d="M114.95 356.43L117.2 360.57L112.7 360.57Z" fill="#000000"/>
<path d="M121.29 356.53L123.54 360.67L119.04 360.67Z" fill="#000000"/>
<path d="M127.62 356.73L129.87 360.87L125.37 360.87Z" fill="#000000"/>
<path d="M133.95 356.83L136.2 360.97L131.7 360.97Z" fill="#000000"/>
<path d="M140.28 358.13L142.53 362.27L138.03 362.27Z" fill="#000000"/>
<path d="M146.62 359.63L148.87 363.77L144.37 363.77Z" fill="#000000"/>
<path d="M152.95 361.03L155.2 365.17L150.7 365.17Z" fill="#000000"/>
<path d="M159.28 363.13L161.53 367.27L157.03 367.27Z" fill="#000000"/>
<path d="M165.61 364.43L167.86 368.57L163.36 368.57Z" fill="#000000"/>
<path d="M171.94 366.63L174.19 370.77L169.69 370.77Z" fill="#000000"/>
<path d="M178.28 369.83L180.53 373.97L176.03 373.97Z" fill="#000000"/>
<path d="M184.61 371.03L186.86 375.17L182.36 375.17Z" fill="#000000"/>
<path d="M190.94 372.93L193.19 377.07L188.69 377.07Z" fill="#000000"/>
<path d="M197.27 374.53L199.52 378.67L195.02 378.67Z" fill="#000000"/>
<path d="M203.6 375.93L205.85 380.07L201.35 380.07Z" fill="#000000"/>
<path d="M209.94 379.03L212.19 383.17L207.69 383.17Z" fill="#000000"/>
<path d="M216.27 381.43L218.52 385.57L214.02 385.57Z" fill="#000000"/>
<path d="M222.6 383.23L224.85 387.37L220.35 387.37Z" fill="#000000"/>
<path d="M228.93 386.43L231.18 390.57L226.68 390.57Z" fill="#000000"/>
<path d="M235.27 390.23L237.52 394.37L233.02 394.37Z" fill="#000000"/>
<path d="M241.6 392.73L243.85 396.87L239.35 396.87Z" fill="#000000"/>
<path d="M251.1 396.73L253.35 400.87L248.85 400.87Z" fill="#000000"/>
<path d="M263.76 401.83L266.01 405.97L261.51 405.97Z" fill="#000000"/>
<path d="M276.42 405.43L278.67 409.57L274.17 409.57Z" fill="#000000"/>
<path d="M289.09 410.83L291.34 414.97L286.84 414.97Z" fill="#000000"/>
<path d="M301.75 414.13L304 418.27L299.5 418.27Z" fill="#000000"/>
<path d="M331.8 428.03L334.05 432.17L329.55 432.17Z" fill="#000000"/>
<path d="M371.3 432.93L373.55 437.07L369.05 437.07Z" fill="#000000"/>
<rect x="67.7" y="312.45" width="319.6" height="229.35" fill="none" stroke="#000" stroke-width="1.05"/>
<path d="M70.63 541.8V536.3M70.63 312.45V319.45M77.26 541.8V538.6M77.26 312.45V316.05M83.89 541.8V538.6M83.89 312.45V316.05M90.52 541.8V538.6M90.52 312.45V316.05M97.15 541.8V538.6M97.15 312.45V316.05M103.78 541.8V536.3M103.78 312.45V319.45M110.42 541.8V538.6M110.42 312.45V316.05M117.05 541.8V538.6M117.05 312.45V316.05M123.68 541.8V538.6M123.68 312.45V316.05M130.31 541.8V538.6M130.31 312.45V316.05M136.94 541.8V536.3M136.94 312.45V319.45M143.57 541.8V538.6M143.57 312.45V316.05M150.2 541.8V538.6M150.2 312.45V316.05M156.83 541.8V538.6M156.83 312.45V316.05M163.46 541.8V538.6M163.46 312.45V316.05M170.09 541.8V536.3M170.09 312.45V319.45M176.73 541.8V538.6M176.73 312.45V316.05M183.36 541.8V538.6M183.36 312.45V316.05M189.99 541.8V538.6M189.99 312.45V316.05M196.62 541.8V538.6M196.62 312.45V316.05M203.25 541.8V536.3M203.25 312.45V319.45M209.88 541.8V538.6M209.88 312.45V316.05M216.51 541.8V538.6M216.51 312.45V316.05M223.14 541.8V538.6M223.14 312.45V316.05M229.77 541.8V538.6M229.77 312.45V316.05M236.41 541.8V536.3M236.41 312.45V319.45M243.04 541.8V538.6M243.04 312.45V316.05M249.67 541.8V538.6M249.67 312.45V316.05M256.3 541.8V538.6M256.3 312.45V316.05M262.93 541.8V538.6M262.93 312.45V316.05M269.56 541.8V536.3M269.56 312.45V319.45M276.19 541.8V538.6M276.19 312.45V316.05M282.82 541.8V538.6M282.82 312.45V316.05M289.45 541.8V538.6M289.45 312.45V316.05M296.08 541.8V538.6M296.08 312.45V316.05M302.72 541.8V536.3M302.72 312.45V319.45M309.35 541.8V538.6M309.35 312.45V316.05M315.98 541.8V538.6M315.98 312.45V316.05M322.61 541.8V538.6M322.61 312.45V316.05M329.24 541.8V538.6M329.24 312.45V316.05M335.87 541.8V536.3M335.87 312.45V319.45M342.5 541.8V538.6M342.5 312.45V316.05M349.13 541.8V538.6M349.13 312.45V316.05M355.76 541.8V538.6M355.76 312.45V316.05M362.39 541.8V538.6M362.39 312.45V316.05M369.02 541.8V536.3M369.02 312.45V319.45M375.66 541.8V538.6M375.66 312.45V316.05M382.29 541.8V538.6M382.29 312.45V316.05M67.7 541.8H77.1M387.3 541.8H377.9M67.7 530.29H72.5M387.3 530.29H382.5M67.7 523.56H72.5M387.3 523.56H382.5M67.7 518.79H72.5M387.3 518.79H382.5M67.7 515.08H72.5M387.3 515.08H382.5M67.7 512.06H72.5M387.3 512.06H382.5M67.7 509.5H72.5M387.3 509.5H382.5M67.7 507.28H72.5M387.3 507.28H382.5M67.7 505.32H72.5M387.3 505.32H382.5M67.7 503.57H77.1M387.3 503.57H377.9M67.7 492.07H72.5M387.3 492.07H382.5M67.7 485.34H72.5M387.3 485.34H382.5M67.7 480.56H72.5M387.3 480.56H382.5M67.7 476.86H72.5M387.3 476.86H382.5M67.7 473.83H72.5M387.3 473.83H382.5M67.7 471.27H72.5M387.3 471.27H382.5M67.7 469.05H72.5M387.3 469.05H382.5M67.7 467.1H72.5M387.3 467.1H382.5M67.7 465.35H77.1M387.3 465.35H377.9M67.7 453.84H72.5M387.3 453.84H382.5M67.7 447.11H72.5M387.3 447.11H382.5M67.7 442.34H72.5M387.3 442.34H382.5M67.7 438.63H72.5M387.3 438.63H382.5M67.7 435.61H72.5M387.3 435.61H382.5M67.7 433.05H72.5M387.3 433.05H382.5M67.7 430.83H72.5M387.3 430.83H382.5M67.7 428.87H72.5M387.3 428.87H382.5M67.7 427.12H77.1M387.3 427.12H377.9M67.7 415.62H72.5M387.3 415.62H382.5M67.7 408.89H72.5M387.3 408.89H382.5M67.7 404.11H72.5M387.3 404.11H382.5M67.7 400.41H72.5M387.3 400.41H382.5M67.7 397.38H72.5M387.3 397.38H382.5M67.7 394.82H72.5M387.3 394.82H382.5M67.7 392.6H72.5M387.3 392.6H382.5M67.7 390.65H72.5M387.3 390.65H382.5M67.7 388.9H77.1M387.3 388.9H377.9M67.7 377.39H72.5M387.3 377.39H382.5M67.7 370.66H72.5M387.3 370.66H382.5M67.7 365.89H72.5M387.3 365.89H382.5M67.7 362.18H72.5M387.3 362.18H382.5M67.7 359.16H72.5M387.3 359.16H382.5M67.7 356.6H72.5M387.3 356.6H382.5M67.7 354.38H72.5M387.3 354.38H382.5M67.7 352.42H72.5M387.3 352.42H382.5M67.7 350.67H77.1M387.3 350.67H377.9M67.7 339.17H72.5M387.3 339.17H382.5M67.7 332.44H72.5M387.3 332.44H382.5M67.7 327.66H72.5M387.3 327.66H382.5M67.7 323.96H72.5M387.3 323.96H382.5M67.7 320.93H72.5M387.3 320.93H382.5M67.7 318.37H72.5M387.3 318.37H382.5M67.7 316.15H72.5M387.3 316.15H382.5M67.7 314.2H72.5M387.3 314.2H382.5" stroke="#000" stroke-width="1" fill="none"/>
</svg>
</body></html>
